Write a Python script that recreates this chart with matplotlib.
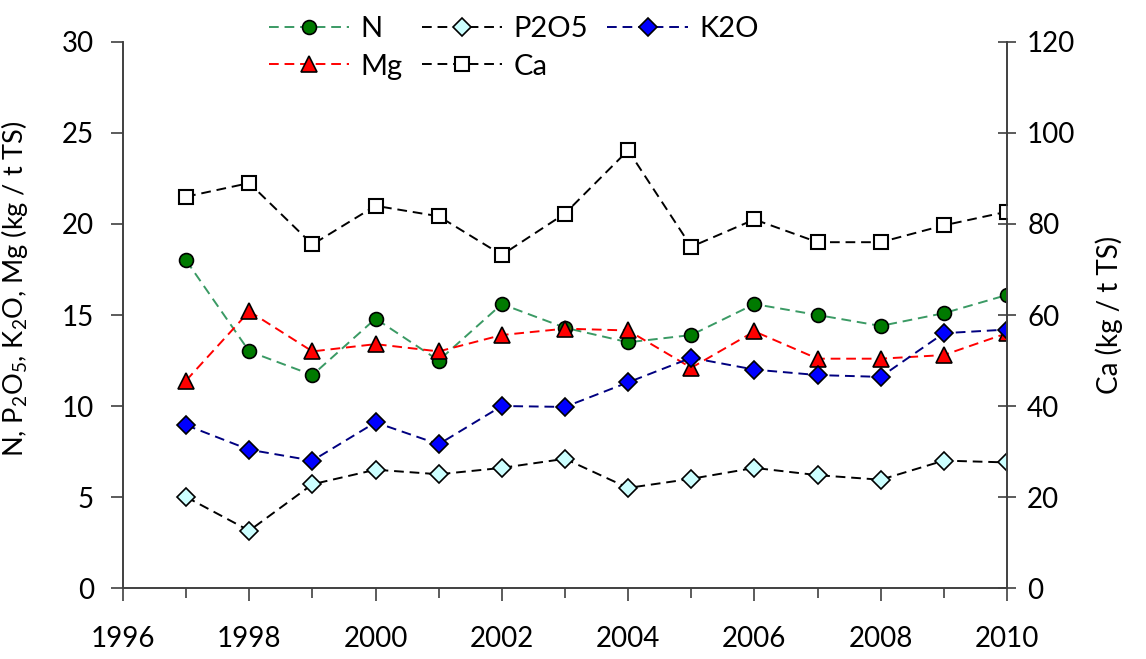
import matplotlib.pyplot as plt

plt.rcParams['font.family'] = ['Lato', 'DejaVu Sans']
plt.rcParams['mathtext.fontset'] = 'custom'
plt.rcParams['mathtext.rm'] = 'Lato'
plt.rcParams['mathtext.default'] = 'regular'

years = [1997, 1998, 1999, 2000, 2001, 2002, 2003, 2004, 2005, 2006, 2007, 2008, 2009, 2010]

# left axis (kg / t TS)
n_vals = [18.0, 13.0, 11.7, 14.8, 12.5, 15.6, 14.3, 13.5, 13.9, 15.6, 15.0, 14.4, 15.1, 16.1]
mg_vals = [11.4, 15.2, 13.0, 13.4, 13.0, 13.9, 14.25, 14.15, 12.1, 14.1, 12.6, 12.6, 12.8, 14.0]
k2o_vals = [8.95, 7.6, 7.0, 9.1, 7.9, 10.0, 9.95, 11.3, 12.65, 12.0, 11.7, 11.6, 14.0, 14.2]
p2o5_vals = [5.0, 3.15, 5.7, 6.5, 6.25, 6.6, 7.1, 5.5, 6.0, 6.6, 6.2, 5.95, 7.0, 6.9]

# right axis (kg / t TS)
ca_vals = [86.0, 89.0, 75.5, 84.0, 81.7, 73.2, 82.3, 96.2, 75.0, 81.0, 76.0, 76.0, 79.7, 82.7]

fig = plt.figure(figsize=(11.46, 6.59), dpi=100)
ax = fig.add_axes([0.1073, 0.1077, 0.7714, 0.8286])
ax2 = ax.twinx()

dash = (5, 3)
l_n, = ax.plot(years, n_vals, color='#3a9a64', lw=1.4, dashes=dash, marker='o', ms=10,
               mfc='#007a00', mec='black', mew=1.2, label='N')
l_mg, = ax.plot(years, mg_vals, color='red', lw=1.4, dashes=dash, marker='^', ms=12,
                mfc='red', mec='black', mew=1.2, label='Mg')
l_p, = ax.plot(years, p2o5_vals, color='black', lw=1.4, dashes=dash, marker='D', ms=9,
               mfc='#ccffff', mec='black', mew=1.2, label='P2O5')
l_k, = ax.plot(years, k2o_vals, color='#000080', lw=1.4, dashes=dash, marker='D', ms=9,
               mfc='#0000ff', mec='black', mew=1.2, label='K2O')
l_ca, = ax2.plot(years, ca_vals, color='black', lw=1.4, dashes=dash, marker='s', ms=10,
                 mfc='white', mec='black', mew=1.5, label='Ca')

ax.set_xlim(1996, 2010)
ax.set_ylim(0, 30)
ax2.set_ylim(0, 120)
ax.set_xticks(range(1996, 2011, 2))
ax.set_xticks(range(1997, 2011, 2), minor=True)
ax.set_yticks(range(0, 31, 5))
ax2.set_yticks(range(0, 121, 20))

for a in (ax, ax2):
    a.spines['top'].set_visible(False)
    for s in a.spines.values():
        s.set_color('#404040')
        s.set_linewidth(1.2)

ax.tick_params(axis='both', which='major', labelsize=20, length=9, width=1.2, color='#404040')
ax.tick_params(axis='y', pad=12)
ax.tick_params(axis='x', which='minor', length=7, width=1.2, color='#404040')
ax.tick_params(axis='x', pad=18)
ax2.tick_params(axis='y', direction='inout', labelsize=20, length=13, width=1.2, color='#404040', pad=8)

ax.set_ylabel('N, P$_2$O$_5$, K$_2$O, Mg (kg / t TS)', fontsize=19.5)
ax.yaxis.set_label_coords(-0.105, 0.548)
ax2.set_ylabel('Ca (kg / t TS)', fontsize=20, labelpad=14)

handles = [l_n, l_mg, l_p, l_ca, l_k]
fig.legend(handles, [h.get_label() for h in handles], ncol=3, loc='upper left',
           bbox_to_anchor=(0.222, 0.998), frameon=False, fontsize=21, borderpad=0,
           handlelength=2.75, handletextpad=0.4, columnspacing=0.65, labelspacing=0.4)

fig.savefig('out.png', dpi=100)
